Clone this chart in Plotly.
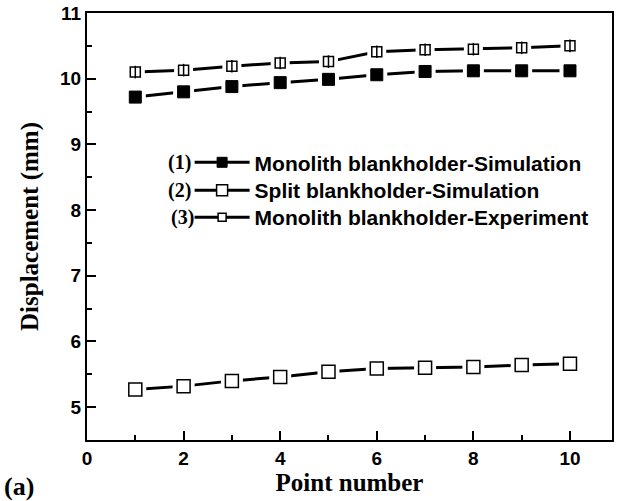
import plotly.graph_objects as go

# ---- data ----
points = [1, 2, 3, 4, 5, 6, 7, 8, 9, 10]
monolith_sim = [9.72, 9.80, 9.88, 9.94, 9.99, 10.06, 10.11, 10.12, 10.12, 10.12]
split_sim = [5.27, 5.32, 5.40, 5.46, 5.54, 5.59, 5.60, 5.61, 5.64, 5.66]
monolith_exp = [10.10, 10.13, 10.19, 10.24, 10.26, 10.41, 10.44, 10.45, 10.47, 10.50]

names = ["Monolith blankholder-Simulation",
         "Split blankholder-Simulation",
         "Monolith blankholder-Experiment"]
labels = ["(1)", "(2)", "(3)"]
x_ticks = [0, 2, 4, 6, 8, 10]
y_ticks = [5, 6, 7, 8, 9, 10, 11]

series = [monolith_sim, split_sim, monolith_exp]
markers = [
    dict(symbol="square", size=12, color="black", line=dict(color="black", width=1)),
    dict(symbol="square", size=13, color="white", line=dict(color="black", width=1.5)),
    dict(symbol="square", size=10, color="white", line=dict(color="black", width=1.5)),
]

fig = go.Figure()

for ys, mk in zip(series, markers):
    fig.add_trace(go.Scatter(x=points, y=ys, mode="lines",
                             line=dict(color="black", width=3),
                             showlegend=False, hoverinfo="skip"))
    fig.add_trace(go.Scatter(x=points, y=ys, mode="markers",
                             marker=dict(symbol="square", size=mk["size"] + 9,
                                         color="white", line=dict(width=0)),
                             showlegend=False, hoverinfo="skip"))
    fig.add_trace(go.Scatter(x=points, y=ys, mode="markers", marker=mk,
                             showlegend=False))

fig.add_trace(go.Scatter(x=points, y=monolith_exp, mode="markers",
                         marker=dict(symbol="line-ns", size=9,
                                     line=dict(color="black", width=1.5)),
                         showlegend=False, hoverinfo="skip"))

L, R, T, B = 87, 3, 12, 61
pw = 617 - L - R
ph = 501 - T - B

legend_font = dict(family="Liberation Sans, Arial, sans-serif", size=21,
                   color="black", weight="bold")
row_y = [162, 190, 217]
legend_ids = ["legend", "legend2", "legend3"]
legend_layout = {}
for name, mk, lid, yp in zip(names, markers, legend_ids, row_y):
    m = dict(mk)
    m["size"] = max(mk["size"] - 2, 8)
    fig.add_trace(go.Scatter(x=[None], y=[None], mode="lines+markers", name=name,
                             line=dict(color="black", width=3), marker=m, legend=lid))
    legend_layout[lid] = dict(x=(190 - L) / pw, y=(501 - B - yp) / ph,
                              xanchor="left", yanchor="middle",
                              bgcolor="rgba(0,0,0,0)", borderwidth=0, itemwidth=55,
                              font=legend_font)

for lab, yp, xr in zip(labels, row_y, [193, 193, 196]):
    fig.add_annotation(xref="paper", yref="paper",
                       x=(xr - L) / pw, y=(501 - B - yp) / ph,
                       xanchor="right", yanchor="middle", showarrow=False,
                       text=f"<b>{lab}</b>",
                       font=dict(family="Liberation Serif, Times New Roman, serif",
                                 size=20, color="black"))

fig.add_annotation(xref="paper", yref="paper", x=(2 - L) / pw, y=(501 - B - 487) / ph,
                   xanchor="left", yanchor="middle", showarrow=False, text="<b>(a)</b>",
                   font=dict(family="Liberation Serif, Times New Roman, serif",
                             size=26, color="black"))

tick_font = dict(family="Liberation Sans, Arial, sans-serif", size=19, color="black")
title_font = dict(family="Liberation Serif, Times New Roman, serif", size=25,
                  color="black", weight="bold")

fig.update_layout(
    width=617, height=501,
    margin=dict(l=L, r=R, t=T, b=B),
    paper_bgcolor="white", plot_bgcolor="white",
    showlegend=True,
    **legend_layout,
    xaxis=dict(range=[0, 10.87], tickvals=x_ticks,
               ticktext=[f"<b>{v}</b>" for v in x_ticks],
               showgrid=False, zeroline=False,
               showline=True, linecolor="black", linewidth=2, mirror=True,
               ticks="inside", ticklen=9, tickwidth=2, tickcolor="black",
               minor=dict(dtick=1, tick0=0, ticks="inside", ticklen=5, tickwidth=2,
                          tickcolor="black", showgrid=False),
               tickfont=tick_font,
               title=dict(text="Point number", font=title_font, standoff=6)),
    yaxis=dict(range=[4.5, 11], tickvals=y_ticks,
               ticktext=[f"<b>{v}</b>" for v in y_ticks],
               showgrid=False, zeroline=False,
               showline=True, linecolor="black", linewidth=2, mirror=True,
               ticks="inside", ticklen=9, tickwidth=2, tickcolor="black",
               minor=dict(dtick=0.5, tick0=0, ticks="inside", ticklen=5, tickwidth=2,
                          tickcolor="black", showgrid=False),
               tickfont=tick_font,
               title=dict(text="Displacement (mm)", font=title_font, standoff=14)),
)

fig.write_html("out.html")
